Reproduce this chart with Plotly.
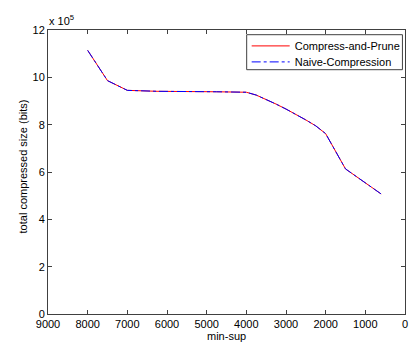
import plotly.graph_objects as go

min_sup = [8000, 7500, 7000, 6250, 4750, 4000, 3750, 3500, 3250, 3000, 2750, 2500, 2250, 2000, 1500, 1000, 600]
compress_prune = [11.14, 9.86, 9.45, 9.41, 9.39, 9.37, 9.25, 9.07, 8.87, 8.66, 8.44, 8.20, 7.95, 7.62, 6.13, 5.53, 5.07]
naive = [11.14, 9.86, 9.45, 9.41, 9.39, 9.37, 9.25, 9.07, 8.87, 8.66, 8.44, 8.20, 7.95, 7.62, 6.13, 5.53, 5.07]
scale = 1e5
x_ticks = [9000, 8000, 7000, 6000, 5000, 4000, 3000, 2000, 1000, 0]
y_ticks = [0, 2, 4, 6, 8, 10, 12]

font = dict(family="Liberation Sans, Arial, sans-serif", size=11, color="#000000")

W, H = 410, 343
L, R, T, B = 47.5, 408.3, 30.3, 314.3


def px_x(p):
    return (p - L) / (R - L)


def px_y(p):
    return (B - p) / (B - T)


fig = go.Figure()
fig.add_trace(go.Scatter(x=min_sup, y=[v * scale for v in compress_prune], mode="lines",
                         name="Compress-and-Prune", line=dict(color="#ff0000", width=1),
                         legend="legend"))
fig.add_trace(go.Scatter(x=min_sup, y=[v * scale for v in naive], mode="lines",
                         name="Naive-Compression", line=dict(color="#0000ff", width=1, dash="dashdot"),
                         legend="legend2"))

axis_common = dict(showgrid=False, zeroline=False, showline=True, linecolor="#404040", linewidth=1,
                   mirror="ticks", ticks="inside", ticklen=4, tickcolor="#404040",
                   tickfont=font, ticklabeloverflow="allow")
fig.update_xaxes(range=[9000, 0], tickvals=x_ticks, ticktext=[str(t) for t in x_ticks], **axis_common)
fig.update_yaxes(range=[0, 12 * scale], tickvals=[t * scale for t in y_ticks],
                 ticktext=[str(t) for t in y_ticks], **axis_common)

fig.add_annotation(text="x 10<sup>5</sup>", xref="paper", yref="paper", x=px_x(46), y=px_y(20),
                   xanchor="left", yanchor="middle", showarrow=False, font=font)
fig.add_annotation(text="min-sup", xref="paper", yref="paper", x=px_x(228), y=px_y(336),
                   xanchor="center", yanchor="middle", showarrow=False, font=font)
fig.add_annotation(text="total compressed size (bits)", xref="paper", yref="paper",
                   x=px_x(22), y=px_y(167), textangle=-90,
                   xanchor="center", yanchor="middle", showarrow=False, font=font)

# legend box
fig.add_shape(type="rect", xref="paper", yref="paper",
              x0=px_x(248.3), x1=px_x(405.7), y0=px_y(70), y1=px_y(35),
              line=dict(color="#404040", width=1), fillcolor="rgba(0,0,0,0)", layer="below")

leg_common = dict(xanchor="left", yanchor="top", borderwidth=0, bgcolor="rgba(0,0,0,0)",
                  font=font, itemwidth=38, visible=True)

fig.update_layout(
    width=W, height=H,
    margin=dict(l=L, r=W - R, t=T, b=H - B),
    plot_bgcolor="#ffffff", paper_bgcolor="#ffffff",
    font=font,
    showlegend=True,
    legend=dict(x=px_x(248.3), y=px_y(31.7), **leg_common),
    legend2=dict(x=px_x(248.3), y=px_y(47.7), **leg_common),
)

fig.write_html("out.html", config={"displayModeBar": False},
               post_script="document.body.style.margin='0';document.body.style.overflow='hidden';")
